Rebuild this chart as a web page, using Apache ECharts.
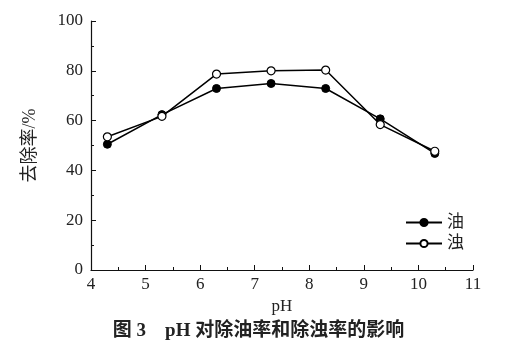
<!DOCTYPE html>
<html>
<head>
<meta charset="utf-8">
<script src="https://cdn.jsdelivr.net/npm/echarts@6/dist/echarts.min.js"></script>
<style>
  html, body { margin: 0; padding: 0; background: #fff; }
  #chart { width: 517px; height: 351px; }
</style>
</head>
<body>
<div id="chart"></div>
<script>
// pH 值
var phValues = [4.3, 5.3, 6.3, 7.3, 8.3, 9.3, 10.3];
// 除油率
var oilRate = [50.5, 62.4, 72.9, 74.9, 72.9, 60.7, 46.8];
// 除浊率
var turbRate = [53.5, 61.7, 78.7, 80.0, 80.3, 58.4, 47.7];

var serifFont = '"Liberation Serif", "DejaVu Serif", serif';
var cjkFont = '"Liberation Serif", "Noto Sans CJK SC", serif';

function pairs(xs, ys) {
  return xs.map(function (x, i) { return [x, ys[i]]; });
}

var myChart = echarts.init(document.getElementById('chart'));
myChart.setOption({
  animation: false,
  grid: { left: 91, right: 44, top: 21, bottom: 81 },
  title: {
    text: '图 3    pH 对除油率和除浊率的影响',
    left: 'center',
    bottom: 5,
    textStyle: { fontFamily: cjkFont, fontSize: 19, fontWeight: 'bold', color: '#222' }
  },
  legend: {
    left: 400,
    top: 209,
    orient: 'vertical',
    itemWidth: 36,
    itemHeight: 9,
    itemGap: 4,
    textStyle: { fontFamily: cjkFont, fontSize: 17, color: '#222' },
    data: ['油', '浊']
  },
  xAxis: {
    type: 'value',
    min: 4, max: 11, interval: 1,
    name: 'pH',
    nameLocation: 'center',
    nameGap: 28,
    nameTextStyle: { fontFamily: serifFont, fontSize: 17, color: '#222' },
    axisLine: { lineStyle: { color: '#111', width: 1.2 } },
    axisTick: { inside: true, length: 5, lineStyle: { color: '#111' } },
    minorTick: { show: true, splitNumber: 2, length: 3, lineStyle: { color: '#111' } },
    axisLabel: { fontFamily: serifFont, fontSize: 17, color: '#222', margin: 6 },
    splitLine: { show: false }
  },
  yAxis: {
    type: 'value',
    min: 0, max: 100, interval: 20,
    name: '去除率/%',
    nameLocation: 'center',
    nameGap: 52,
    nameTextStyle: { fontFamily: cjkFont, fontSize: 18, color: '#222' },
    axisLine: { show: true, lineStyle: { color: '#111', width: 1.2 } },
    axisTick: { show: true, inside: true, length: 5, lineStyle: { color: '#111' } },
    minorTick: { show: true, splitNumber: 2, length: 3, lineStyle: { color: '#111' } },
    axisLabel: { fontFamily: serifFont, fontSize: 17, color: '#222', margin: 8 },
    splitLine: { show: false }
  },
  series: [
    {
      name: '油',
      type: 'line',
      data: pairs(phValues, oilRate),
      symbol: 'circle',
      symbolSize: 8,
      itemStyle: { color: '#000', borderColor: '#000', borderWidth: 1 },
      lineStyle: { color: '#000', width: 1.5 }
    },
    {
      name: '浊',
      type: 'line',
      data: pairs(phValues, turbRate),
      symbol: 'circle',
      symbolSize: 8,
      itemStyle: { color: '#fff', borderColor: '#000', borderWidth: 1.2 },
      lineStyle: { color: '#000', width: 1.5 }
    }
  ]
});
</script>
</body>
</html>
